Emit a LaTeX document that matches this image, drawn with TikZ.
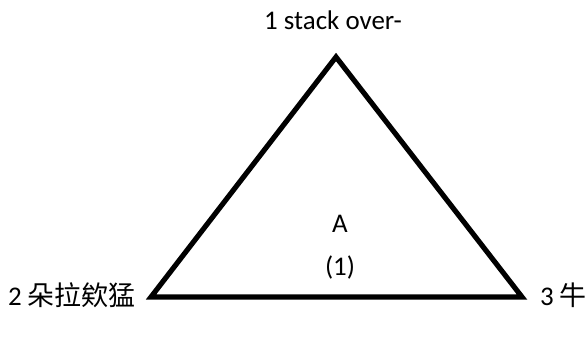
\documentclass[tikz,border=0pt]{standalone}
\usepackage{fontspec}
\setmainfont{Carlito}
\newfontfamily\cjk{Noto Sans CJK SC}
\usetikzlibrary{positioning}

\tikzset{lbl/.style={font=\fontsize{23}{27}\selectfont, inner sep=0pt}}

\begin{document}
\begin{tikzpicture}[x=0.03cm, y=-0.03cm]

\useasboundingbox (0, 0) rectangle (588, 349);

\coordinate (top) at (336, 57);
\coordinate (left) at (151, 297);
\coordinate (right) at (522, 297);

\draw [line width=4.4pt, line join=miter] (top) -- (left) -- (right) -- cycle;

\node [lbl, anchor=base] (t1) at (333, 30) {1 stack over-};
\node [lbl, anchor=base east] (t2) at (136, 306) {2 {\cjk 朵拉欸猛}};
\node [lbl, anchor=base west] (t3) at (540, 306) {3 {\cjk 牛}};

\node [lbl] (a) at (340, 224) {A};
\node [lbl] (one) at (340, 268) {(1)};

\end{tikzpicture}
\end{document}
